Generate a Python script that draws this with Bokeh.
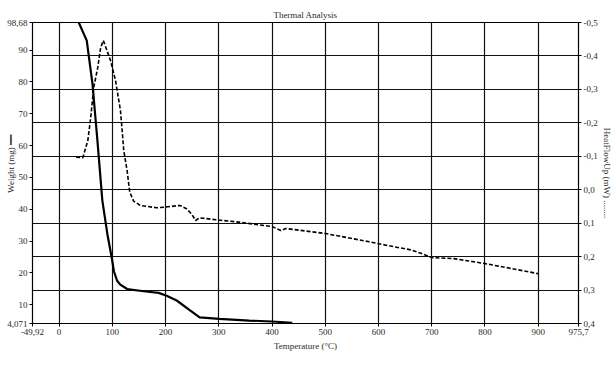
from bokeh.plotting import figure
from bokeh.models import Range1d, LinearAxis, FixedTicker, Grid
from bokeh.embed import file_html
from bokeh.resources import INLINE

# ---- data ----
weight_temp = [37, 52, 62.7, 72, 81.3, 90.6, 99.9, 103, 109, 115, 128, 159, 187, 202, 221, 246, 264, 301, 357, 400, 438]
weight_mg = [98.68, 93.0, 79.5, 61.6, 42.7, 32.3, 23.8, 20.5, 17.5, 16.3, 14.9, 14.2, 13.7, 12.8, 11.3, 8.2, 6.0, 5.5, 5.0, 4.7, 4.3]

hf_temp = [32, 44.7, 54, 59.5, 65.1, 72.6, 78.1, 83.2, 96.7, 106, 115.3, 118.5, 121.5, 127.8, 132.7, 140, 152.6, 183.6,
           199, 227, 239.4, 248.7, 256.7, 264, 295, 338.6, 400, 416.7, 426, 500.5, 580.5, 617.7, 661, 679.6, 700,
           741.8, 800.6, 841, 900]
hf_mw = [-0.097, -0.096, -0.147, -0.216, -0.306, -0.365, -0.425, -0.446, -0.386, -0.327, -0.237, -0.177, -0.117, -0.057,
         0.007, 0.034, 0.047, 0.054, 0.052, 0.047, 0.057, 0.072, 0.092, 0.084, 0.090, 0.097, 0.110, 0.122, 0.116,
         0.131, 0.155, 0.167, 0.180, 0.190, 0.203, 0.206, 0.221, 0.233, 0.251]

x_ticks = [-49.92, 0, 100, 200, 300, 400, 500, 600, 700, 800, 900, 975.7]
x_labels = ["-49,92", "0", "100", "200", "300", "400", "500", "600", "700", "800", "900", "975,7"]
w_ticks = [4.071, 10, 20, 30, 40, 50, 60, 70, 80, 90, 98.68]
w_labels = ["4,071", "10", "20", "30", "40", "50", "60", "70", "80", "90", "98,68"]
hf_ticks = [-0.5, -0.4, -0.3, -0.2, -0.1, 0.0, 0.1, 0.2, 0.3, 0.4]
hf_labels = ["-0,5", "-0,4", "-0,3", "-0,2", "-0,1", "0,0", "0,1", "0,2", "0,3", "0,4"]

FONT = "Liberation Serif"
TXT = "#2a2a2a"

p = figure(width=614, height=368, output_backend="svg", toolbar_location=None,
           x_range=Range1d(-49.92, 975.7), y_range=Range1d(4.071, 98.68),
           min_border_left=32, min_border_right=32, min_border_top=22, min_border_bottom=45,
           title="Thermal Analysis")
p.extra_y_ranges = {"hf": Range1d(start=0.4, end=-0.5)}
p.outline_line_color = "black"
p.outline_line_width = 1
p.background_fill_color = "white"

p.title.align = "center"
p.title.text_font = FONT
p.title.text_font_size = "9px"
p.title.text_font_style = "normal"
p.title.text_color = TXT
p.title.standoff = 5

# x axis
p.xaxis.ticker = FixedTicker(ticks=x_ticks)
p.xaxis.major_label_overrides = {t: l for t, l in zip(x_ticks, x_labels)}
p.xaxis.axis_label = "Temperature (°C)"
# left axis
p.yaxis.ticker = FixedTicker(ticks=w_ticks)
p.yaxis.major_label_overrides = {t: l for t, l in zip(w_ticks, w_labels)}
p.yaxis.axis_label = "\u00a0" * 8 + "Weight (mg) ━━"
# right axis
ra = LinearAxis(y_range_name="hf", ticker=FixedTicker(ticks=hf_ticks))
ra.major_label_overrides = {t: l for t, l in zip(hf_ticks, hf_labels)}
ra.axis_label = "HeatFlowUp (mW) ........"
p.add_layout(ra, "right")

for ax in [p.xaxis[0], p.yaxis[0], ra]:
    ax.axis_line_color = "black"
    ax.axis_line_width = 1.2
    ax.major_tick_line_color = "black"
    ax.major_tick_out = 3
    ax.major_tick_in = 0
    ax.minor_tick_line_color = None
    ax.major_label_text_font = FONT
    ax.major_label_text_font_size = "9px"
    ax.major_label_text_color = TXT
    ax.major_label_standoff = 2
    ax.axis_label_text_font = FONT
    ax.axis_label_text_font_size = "9px"
    ax.axis_label_text_color = TXT
    ax.axis_label_text_font_style = "normal"
    ax.axis_label_standoff = 3
p.yaxis[0].axis_label_standoff = -12
ra.axis_label_standoff = 1
ra.axis_label_orientation = "vertical"

# grids
p.xgrid.ticker = FixedTicker(ticks=x_ticks[1:-1])
p.xgrid.grid_line_color = "#111111"
p.xgrid.grid_line_width = 1.2
p.ygrid.visible = False
hg = Grid(dimension=1, ticker=FixedTicker(ticks=hf_ticks[1:-1]), y_range_name="hf",
          grid_line_color="#111111", grid_line_width=1.2)
p.add_layout(hg)

# curves
p.line(weight_temp, weight_mg, line_color="black", line_width=2.2)
p.line(hf_temp, hf_mw, y_range_name="hf", line_color="black", line_width=1.6, line_dash="4 2")

open("out.html", "w").write(file_html(p, INLINE))
